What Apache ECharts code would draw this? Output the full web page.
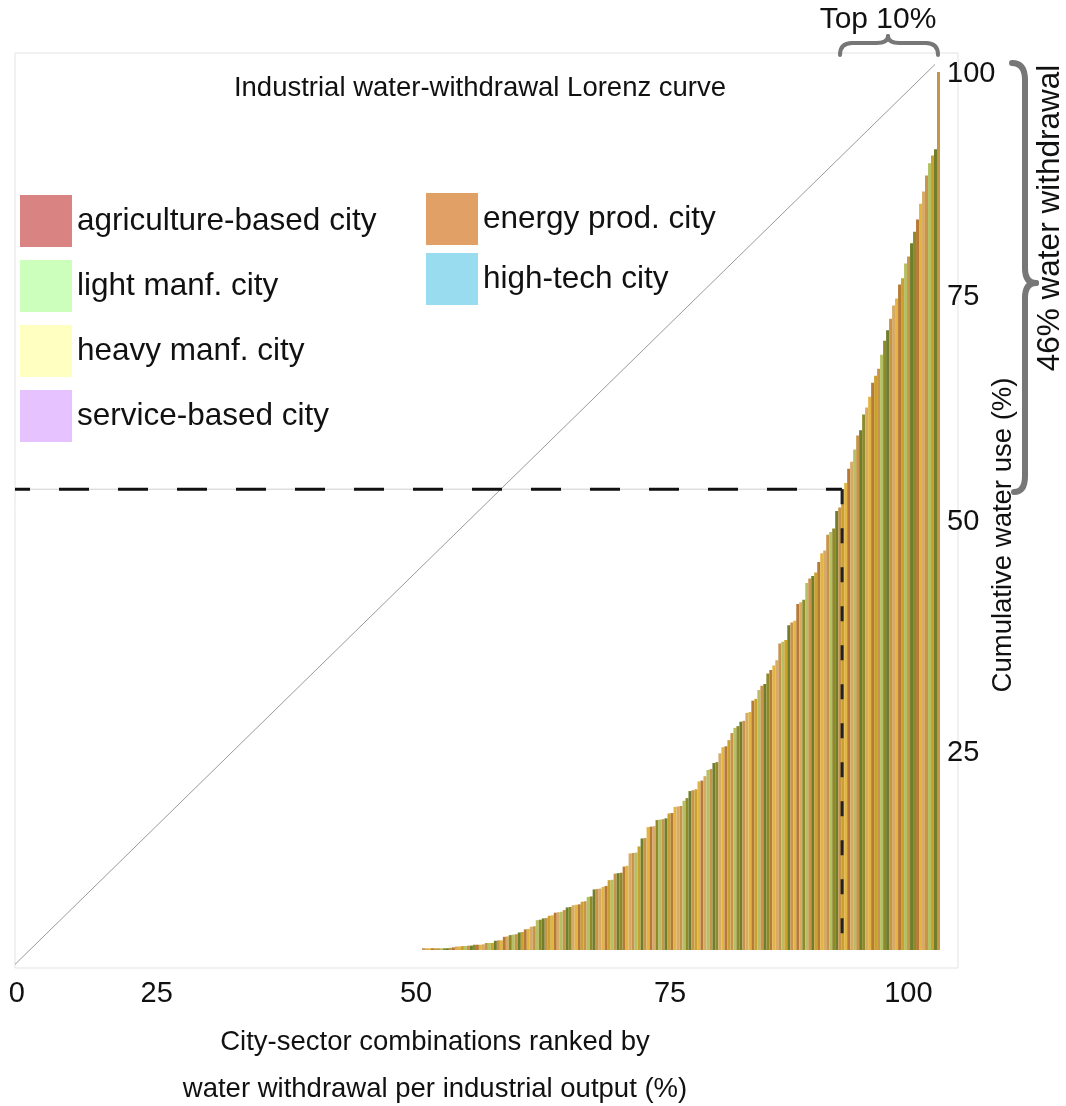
<!DOCTYPE html>
<html>
<head>
<meta charset="utf-8">
<script src="https://cdn.jsdelivr.net/npm/echarts@6/dist/echarts.min.js"></script>
<style>
html,body{margin:0;padding:0;background:#fff;}
#chart{width:1066px;height:1106px;}
</style>
</head>
<body>
<div id="chart"></div>
<script>
// ---- tick labels (positions as drawn in the figure) ----
const xTickLabels = ['0', '25', '50', '75', '100'];
const xTickAt = [0.2, 15.4, 43.6, 71.2, 97.1];
const yTickLabels = ['100', '75', '50', '25'];
const yTickAt = [98.9, 74.2, 49.2, 23.5];

// ---- legend ----
const legendLeftNames = ['agriculture-based city', 'light manf. city', 'heavy manf. city', 'service-based city'];
const legendLeftColors = ['#d98383', '#ccffbb', '#ffffc2', '#e6c2ff'];
const legendRightNames = ['energy prod. city', 'high-tech city'];
const legendRightColors = ['#e0a066', '#99dcf0'];

// ---- cumulative water use (%) per ranked city-sector combination ----
const cumulativeWater = [
  0.2, 0.2, 0.2, 0.2, 0.2, 0.2, 0.2, 0.2, 0.2, 0.25,
  0.3, 0.4, 0.4, 0.45, 0.45, 0.5, 0.5, 0.6, 0.6, 0.6,
  0.65, 0.8, 0.8, 0.8, 1.05, 1.1, 1.1, 1.5, 1.55, 1.7,
  1.75, 1.8, 2.0, 2.05, 2.35, 2.4, 2.65, 2.7, 3.4, 3.45,
  3.6, 3.65, 3.9, 3.95, 4.25, 4.3, 4.35, 4.55, 4.85, 4.9,
  5.1, 5.15, 5.2, 5.5, 5.55, 6.05, 6.1, 6.9, 6.95, 7.0,
  7.2, 7.3, 7.95, 8.0, 8.7, 8.75, 8.8, 9.5, 9.6, 11.0,
  11.05, 11.1, 11.8, 12.7, 12.75, 14.0, 14.05, 14.1, 14.8, 14.85,
  14.9, 15.0, 15.55, 15.6, 16.3, 16.35, 16.4, 17.0, 17.3, 18.1,
  18.2, 18.3, 19.2, 19.3, 19.8, 20.5, 20.6, 21.3, 21.4, 22.4,
  23.1, 23.2, 23.9, 24.7, 25.3, 25.5, 26.0, 26.1, 27.0, 27.1,
  28.4, 28.6, 29.6, 30.1, 30.3, 31.5, 31.9, 32.4, 33.0, 34.9,
  35.1, 35.3, 37.0, 37.3, 37.5, 39.4, 39.6, 39.9, 41.8, 42.3,
  42.6, 43.0, 44.2, 45.2, 45.5, 47.3, 47.6, 48.0, 50.0, 50.4,
  52.5, 53.2, 54.8, 55.6, 57.0, 58.6, 59.2, 61.0, 61.8, 63.0,
  64.6, 65.4, 66.2, 67.8, 69.4, 70.6, 71.9, 73.4, 74.2, 75.8,
  76.5, 78.2, 79.0, 80.5, 81.8, 83.2, 85.0, 86.4, 88.2, 89.6,
  90.5, 91.2, 100
];

// stripe colour class of each bar
const barShade = '05147036204517302641503720145630274150362071453026514703620514730264150372014563027415036207145302651470362051473026415037201456302741503620714530265147036205147302641503720145';
const barPalette = ['#c8944c', '#e2b443', '#6e7e2b', '#b4c063', '#b67a36', '#d7aa66', '#8e8a2a', '#caa02e'];

// equality line and top-10% cut-off
const equalityLine = [[0, 0], [100, 100]];
const cutoffShare = 52.8;   // cumulative water at the top-10% cut-off
const cutoffRank = 89.9;    // position of the cut-off along the x axis
const cutoffBase = 1.6;

const FONT = "'Liberation Sans', Arial, Helvetica, sans-serif";

const chart = echarts.init(document.getElementById('chart'), null, {renderer: 'canvas'});

function tickFmt(at, labels) {
  return function (v) {
    for (let i = 0; i < at.length; i++) {
      if (Math.abs(at[i] - v) < 1e-6) return labels[i];
    }
    return '';
  };
}

const barData = cumulativeWater.map((v, i) => ({
  value: v,
  itemStyle: {color: barPalette[+barShade[i % barShade.length]]}
}));

const legendSeries = legendLeftNames.concat(legendRightNames).map((n, i) => ({
  name: n,
  type: 'bar',
  xAxisIndex: 0,
  yAxisIndex: 0,
  data: [],
  itemStyle: {color: legendLeftColors.concat(legendRightColors)[i]}
}));

// brace drawing helpers (annotation decoration)
function braceParts(segs, width) {
  const st = {stroke: '#777', lineWidth: width, fill: null, lineCap: 'round'};
  return segs.map(s => s.length === 4
    ? {type: 'line', silent: true, shape: {x1: s[0], y1: s[1], x2: s[2], y2: s[3]}, style: st}
    : {type: 'bezierCurve', silent: true, shape: {x1: s[0], y1: s[1], cpx1: s[2], cpy1: s[3], x2: s[4], y2: s[5]}, style: st});
}
const topBrace = braceParts([
  [840, 55, 840, 43, 852, 43],
  [852, 43, 876, 43],
  [876, 43, 888, 43, 888, 36],
  [888, 36, 888, 43, 900, 43],
  [900, 43, 926, 43],
  [926, 43, 938, 43, 938, 55]
], 4);
const rightBrace = braceParts([
  [1012, 63, 1025, 63, 1025, 80],
  [1025, 80, 1025, 268],
  [1025, 268, 1025, 283, 1036, 283],
  [1036, 283, 1025, 283, 1025, 298],
  [1025, 298, 1025, 476],
  [1025, 476, 1025, 492, 1014, 492]
], 6);

const option = {
  animation: false,
  backgroundColor: '#ffffff',
  textStyle: {fontFamily: FONT},
  grid: [
    {left: 15, top: 53, width: 943, height: 915, show: true, borderColor: '#e3e3e3', borderWidth: 1, backgroundColor: 'transparent'},
    {left: 422, top: 72, width: 518, height: 878}
  ],
  xAxis: [
    {
      type: 'value', gridIndex: 0, min: 0, max: 102.5,
      axisLine: {show: false}, axisTick: {show: false}, splitLine: {show: false},
      axisLabel: {
        customValues: xTickAt, formatter: tickFmt(xTickAt, xTickLabels),
        fontSize: 29, color: '#111', margin: 11, fontFamily: FONT
      }
    },
    {
      type: 'category', gridIndex: 1, show: false,
      data: cumulativeWater.map((v, i) => String(i + 1))
    }
  ],
  yAxis: [
    {
      type: 'value', gridIndex: 0, position: 'right', min: -0.4, max: 101.27,
      axisLine: {show: false}, axisTick: {show: false}, splitLine: {show: false},
      axisLabel: {
        customValues: yTickAt, formatter: tickFmt(yTickAt, yTickLabels),
        fontSize: 29, color: '#111', margin: -11, fontFamily: FONT
      }
    },
    {type: 'value', gridIndex: 1, min: 0, max: 100, show: false}
  ],
  legend: [
    {
      orient: 'vertical', left: 20, top: 195, padding: 0,
      itemWidth: 52, itemHeight: 52, itemGap: 13, selectedMode: false,
      icon: 'rect',
      textStyle: {fontSize: 31.5, color: '#111', fontFamily: FONT},
      data: legendLeftNames
    },
    {
      orient: 'vertical', left: 426, top: 193, padding: 0,
      itemWidth: 52, itemHeight: 52, itemGap: 8, selectedMode: false,
      icon: 'rect',
      textStyle: {fontSize: 31.5, color: '#111', fontFamily: FONT},
      data: legendRightNames
    }
  ],
  series: [
    {
      name: 'city-sector', type: 'bar', xAxisIndex: 1, yAxisIndex: 1,
      data: barData, barCategoryGap: '0%', barGap: '0%', z: 2, silent: true
    },
    {
      type: 'line', xAxisIndex: 0, yAxisIndex: 0, data: equalityLine,
      symbol: 'none', silent: true, z: 3,
      lineStyle: {color: '#9a9a9a', width: 1}
    },
    {
      type: 'line', xAxisIndex: 0, yAxisIndex: 0,
      data: [[0, cutoffShare], [cutoffRank, cutoffShare]],
      symbol: 'none', silent: true, z: 3,
      lineStyle: {color: '#d0d0d0', width: 1}
    },
    {
      type: 'line', xAxisIndex: 0, yAxisIndex: 0,
      data: [[0, cutoffShare], [cutoffRank, cutoffShare]],
      symbol: 'none', silent: true, z: 4,
      lineStyle: {color: '#111', width: 3, type: [30, 29], dashOffset: 15}
    },
    {
      type: 'line', xAxisIndex: 0, yAxisIndex: 0,
      data: [[cutoffRank, cutoffShare], [cutoffRank, cutoffBase]],
      symbol: 'none', silent: true, z: 4,
      lineStyle: {color: '#222', width: 3, type: [15, 24]}
    }
  ].concat(legendSeries),
  graphic: [
    {type: 'text', x: 480, y: 88, style: {text: 'Industrial water-withdrawal Lorenz curve', fontSize: 27.5, fontFamily: FONT, fill: '#111', align: 'center', verticalAlign: 'middle'}},
    {type: 'text', x: 435, y: 1042, style: {text: 'City-sector combinations ranked by', fontSize: 27.5, fontFamily: FONT, fill: '#111', align: 'center', verticalAlign: 'middle'}},
    {type: 'text', x: 435, y: 1089, style: {text: 'water withdrawal per industrial output (%)', fontSize: 27.5, fontFamily: FONT, fill: '#111', align: 'center', verticalAlign: 'middle'}},
    {type: 'text', x: 1003, y: 535, rotation: Math.PI / 2, style: {text: 'Cumulative water use (%)', fontSize: 27.5, fontFamily: FONT, fill: '#111', align: 'center', verticalAlign: 'middle'}},
    {type: 'text', x: 1050, y: 218, rotation: Math.PI / 2, style: {text: '46% water withdrawal', fontSize: 31.5, fontFamily: FONT, fill: '#111', align: 'center', verticalAlign: 'middle'}},
    {type: 'text', x: 878, y: 20, style: {text: 'Top 10%', fontSize: 30, fontFamily: FONT, fill: '#111', align: 'center', verticalAlign: 'middle'}}
  ].concat(topBrace, rightBrace)
};

chart.setOption(option);
</script>
</body>
</html>
